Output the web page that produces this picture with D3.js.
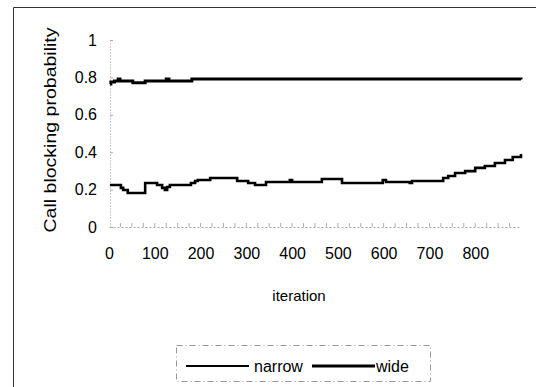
<!DOCTYPE html>
<html><head><meta charset="utf-8">
<script src="https://cdn.jsdelivr.net/npm/d3@7"></script>
<style>
html,body{margin:0;padding:0;background:#fff;}
svg{display:block;font-family:"Liberation Sans",Arial,sans-serif;}
</style></head>
<body>
<svg id="chart" width="536" height="387"></svg>
<script>
// ---- data ----
const yTickValues = [0, 0.2, 0.4, 0.6, 0.8, 1];
const yTickLabels = ["0", "0.2", "0.4", "0.6", "0.8", "1"];
const xTickValues = [0, 100, 200, 300, 400, 500, 600, 700, 800];
const seriesNames = ["narrow", "wide"];
const narrowIter = [2, 20, 26, 31, 41, 72, 79, 100, 105, 116, 122, 127, 133, 177, 179, 188, 194, 221, 275, 280, 297, 304, 319, 341, 343, 391, 395, 400, 461, 465, 505, 509, 592, 598, 605, 657, 662, 723, 730, 741, 756, 778, 800, 821, 843, 865, 882, 900];
const narrowVal  = [0.225, 0.225, 0.209, 0.198, 0.182, 0.182, 0.235, 0.235, 0.225, 0.209, 0.198, 0.214, 0.225, 0.225, 0.235, 0.246, 0.251, 0.262, 0.262, 0.246, 0.246, 0.235, 0.225, 0.225, 0.241, 0.241, 0.251, 0.241, 0.241, 0.257, 0.257, 0.235, 0.235, 0.251, 0.241, 0.235, 0.246, 0.246, 0.262, 0.273, 0.289, 0.299, 0.316, 0.326, 0.342, 0.358, 0.374, 0.390];
const wideIter = [2, 4, 12, 20, 24, 52, 79, 125, 131, 181, 900];
const wideVal  = [0.765, 0.775, 0.781, 0.791, 0.781, 0.772, 0.781, 0.791, 0.781, 0.791, 0.789];

// ---- chart ----
const svg = d3.select("#chart");
const x = d3.scaleLinear().domain([0, 900]).range([109, 521]);
const y = d3.scaleLinear().domain([0, 1]).range([227, 40]);
const FONT = "Liberation Sans, Arial, sans-serif";

// outer frame
svg.append("path").attr("d", "M13.5,400 V7.5 H540")
  .attr("fill", "none").attr("stroke", "#333").attr("stroke-width", 1);

// y axis
const yAxis = svg.append("g").attr("transform", "translate(110,0)")
  .call(d3.axisLeft(y).tickValues(yTickValues).tickFormat((d, i) => yTickLabels[i]).tickSize(0).tickPadding(13));
yAxis.select(".domain").attr("stroke", "#999").attr("stroke-dasharray", "1,2");
yAxis.selectAll("text").attr("font-size", 16).attr("fill", "#000").style("font-family", FONT);
yAxis.selectAll(".tick line").remove();
yAxis.selectAll(".tick").append("line").attr("x1", 0).attr("x2", 3).attr("stroke", "#aaa");

// x axis
const xAxis = svg.append("g").attr("transform", "translate(0,227)")
  .call(d3.axisBottom(x).tickValues(xTickValues).tickSize(0).tickPadding(21));
xAxis.select(".domain").attr("stroke", "#aaa").attr("stroke-dasharray", "2,2");
xAxis.selectAll("text").attr("font-size", 16).attr("fill", "#000").style("font-family", FONT);
xAxis.selectAll(".tick line").remove();
const minorTicks = d3.range(25, 900, 25);
svg.append("g").selectAll("line").data(minorTicks).join("line")
  .attr("x1", d => x(d)).attr("x2", d => x(d)).attr("y1", 227).attr("y2", 223)
  .attr("stroke", "#999").attr("stroke-width", 0.8);

// axis titles
svg.append("text").attr("transform", "translate(50,130) rotate(-90)")
  .attr("text-anchor", "middle").attr("dominant-baseline", "central")
  .attr("font-size", 17).attr("textLength", 205).attr("lengthAdjust", "spacingAndGlyphs")
  .text("Call blocking probability");
svg.append("text").attr("x", 299).attr("y", 301).attr("text-anchor", "middle")
  .attr("font-size", 15).text("iteration");

// lines
const line = d3.line().x(d => x(d[0])).y(d => y(d[1])).curve(d3.curveStepAfter);
const narrowData = narrowIter.map((d, i) => [d, narrowVal[i]]);
const wideData = wideIter.map((d, i) => [d, wideVal[i]]);
svg.append("path").datum(wideData).attr("d", line)
  .attr("fill", "none").attr("stroke", "#000").attr("stroke-width", 3);
svg.append("path").datum(narrowData).attr("d", line)
  .attr("fill", "none").attr("stroke", "#000").attr("stroke-width", 2.6);

// legend
const lg = svg.append("g");
lg.append("rect").attr("x", 176.5).attr("y", 345.5).attr("width", 254).attr("height", 36)
  .attr("fill", "none").attr("stroke", "#999").attr("stroke-width", 1).attr("stroke-dasharray", "6,3,1,3");
const legendItems = [{ name: seriesNames[0], x1: 186, x2: 249, tx: 254, w: 2.2 }, { name: seriesNames[1], x1: 312, x2: 375, tx: 376, w: 3 }];
legendItems.forEach(it => {
  lg.append("line").attr("x1", it.x1).attr("x2", it.x2).attr("y1", 366).attr("y2", 366)
    .attr("stroke", "#000").attr("stroke-width", it.w);
  lg.append("text").attr("x", it.tx).attr("y", 372).attr("font-size", 16).text(it.name);
});
</script>
</body></html>
